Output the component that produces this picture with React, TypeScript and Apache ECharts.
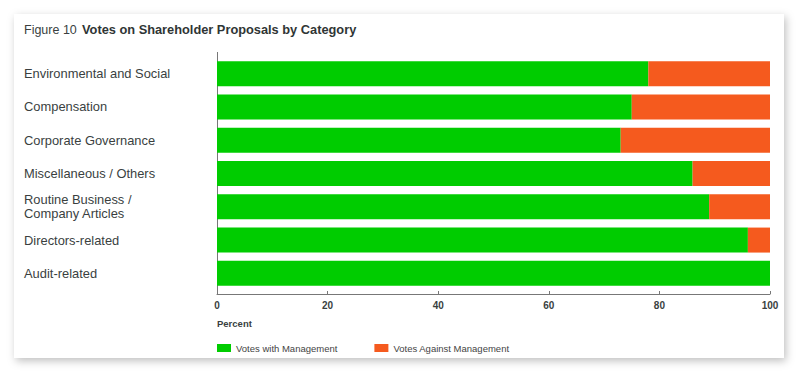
import React, { useEffect, useRef } from "react";
import * as echarts from "echarts";

const categories = [
  "Environmental and Social",
  "Compensation",
  "Corporate Governance",
  "Miscellaneous / Others",
  "Routine Business /\nCompany Articles",
  "Directors-related",
  "Audit-related",
];
const votesWith = [78, 75, 73, 86, 89, 96, 100];
const votesAgainst = [22, 25, 27, 14, 11, 4, 0];
const xTicks = [0, 20, 40, 60, 80, 100];
const seriesNames = ["Votes with Management", "Votes Against Management"];

const FONT = "'Liberation Sans', Arial, sans-serif";
const TEXT = "#3a3f3f";

export default function App() {
  const ref = useRef<HTMLDivElement>(null);
  useEffect(() => {
    if (!ref.current) return;
    const chart = echarts.init(ref.current, undefined, { renderer: "svg" });
    chart.setOption({
      animation: false,
      backgroundColor: "#ffffff",
      textStyle: { fontFamily: FONT },
      grid: { left: 217, right: 30, top: 57, height: 233 },
      legend: {
        left: 217,
        top: 343,
        padding: 0,
        icon: "rect",
        itemWidth: 14,
        itemHeight: 8,
        itemGap: 37,
        textStyle: { fontSize: 9.5, color: "#444", fontFamily: FONT },
        data: seriesNames,
      },
      xAxis: {
        type: "value",
        min: 0,
        max: 100,
        interval: 20,
        offset: 4,
        axisLine: { show: true, lineStyle: { color: "#777", width: 1 } },
        axisTick: { show: true, inside: true, length: 3, lineStyle: { color: "#777" } },
        splitLine: { show: false },
        axisLabel: {
          fontSize: 10,
          fontWeight: "bold",
          color: TEXT,
          margin: 6,
          formatter: (v: number) => (xTicks.includes(v) ? String(v) : ""),
        },
      },
      yAxis: {
        type: "category",
        inverse: true,
        data: categories,
        axisLine: { show: false },
        axisTick: { show: false },
        axisLabel: {
          align: "left",
          margin: 193,
          fontSize: 12.9,
          lineHeight: 14,
          color: TEXT,
          fontFamily: FONT,
          padding: [3, 0, 0, 0],
        },
      },
      series: [
        {
          name: seriesNames[0],
          type: "bar",
          stack: "total",
          data: votesWith,
          barWidth: 25,
          itemStyle: { color: "#00CC00" },
        },
        {
          name: seriesNames[1],
          type: "bar",
          stack: "total",
          data: votesAgainst,
          barWidth: 25,
          itemStyle: { color: "#F55A1E" },
        },
      ],
      graphic: [
        {
          type: "rect",
          z: -10,
          silent: true,
          shape: { x: 14, y: 14, width: 770, height: 344 },
          style: {
            fill: "#ffffff",
            shadowBlur: 8,
            shadowOffsetX: 2,
            shadowOffsetY: 3,
            shadowColor: "rgba(0,0,0,0.25)",
          },
        },
        {
          type: "line",
          silent: true,
          shape: { x1: 217.5, y1: 52, x2: 217.5, y2: 294 },
          style: { stroke: "#777", lineWidth: 1 },
        },
        {
          type: "text",
          left: 24,
          top: 23,
          style: {
            text: "Figure 10",
            fontSize: 12.5,
            fill: TEXT,
            fontFamily: FONT,
          },
        },
        {
          type: "text",
          left: 82,
          top: 23,
          style: {
            text: "Votes on Shareholder Proposals by Category",
            fontSize: 12.8,
            fontWeight: "bold",
            fill: "#2f3535",
            fontFamily: FONT,
          },
        },
        {
          type: "text",
          left: 217,
          top: 318,
          style: {
            text: "Percent",
            fontSize: 9.5,
            fontWeight: "bold",
            fill: TEXT,
            fontFamily: FONT,
          },
        },
      ],
    });
    return () => chart.dispose();
  }, []);
  return (
    <div
      ref={ref}
      style={{ position: "absolute", left: 0, top: 0, width: 800, height: 373 }}
    />
  );
}
